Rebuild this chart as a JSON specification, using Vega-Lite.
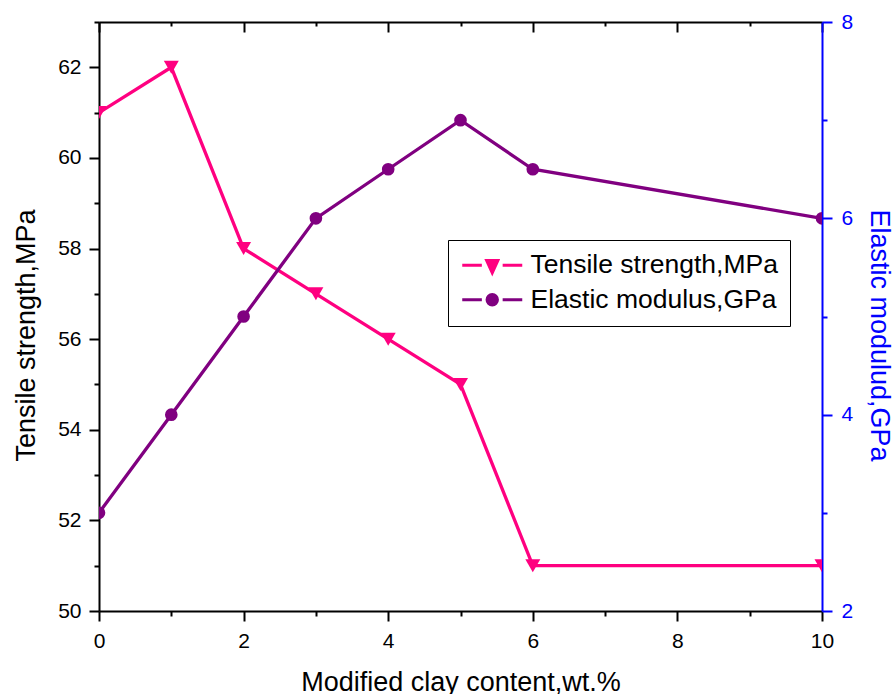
{
  "$schema": "https://vega.github.io/schema/vega-lite/v6.json",
  "width": 723,
  "height": 589,
  "autosize": {"type": "none"},
  "padding": {"left": 99, "top": 22, "right": 71, "bottom": 83},
  "background": "white",
  "config": {
    "view": {"stroke": null},
    "font": "Liberation Sans",
    "axis": {
      "grid": false,
      "labelFont": "Liberation Sans",
      "titleFont": "Liberation Sans",
      "labelFontSize": 21,
      "titleFontSize": 27,
      "titleFontWeight": "normal",
      "domainWidth": 2,
      "tickWidth": 2,
      "labelOverlap": false,
      "labelFlush": false,
      "labelBound": false,
      "domainColor": "black",
      "tickColor": "black",
      "labelColor": "black",
      "titleColor": "black"
    }
  },
  "data": {
    "values": [
      {"content": 0, "series": "Tensile strength,MPa", "value": 61},
      {"content": 1, "series": "Tensile strength,MPa", "value": 62},
      {"content": 2, "series": "Tensile strength,MPa", "value": 58},
      {"content": 3, "series": "Tensile strength,MPa", "value": 57},
      {"content": 4, "series": "Tensile strength,MPa", "value": 56},
      {"content": 5, "series": "Tensile strength,MPa", "value": 55},
      {"content": 6, "series": "Tensile strength,MPa", "value": 51},
      {"content": 10, "series": "Tensile strength,MPa", "value": 51},
      {"content": 0, "series": "Elastic modulus,GPa", "value": 3},
      {"content": 1, "series": "Elastic modulus,GPa", "value": 4},
      {"content": 2, "series": "Elastic modulus,GPa", "value": 5},
      {"content": 3, "series": "Elastic modulus,GPa", "value": 6},
      {"content": 4, "series": "Elastic modulus,GPa", "value": 6.5},
      {"content": 5, "series": "Elastic modulus,GPa", "value": 7},
      {"content": 6, "series": "Elastic modulus,GPa", "value": 6.5},
      {"content": 10, "series": "Elastic modulus,GPa", "value": 6}
    ]
  },
  "layer": [
    {
      "transform": [{"filter": "datum.series === 'Tensile strength,MPa'"}],
      "encoding": {
        "x": {
          "field": "content",
          "type": "quantitative",
          "scale": {"domain": [0, 10], "nice": false, "zero": false},
          "axis": {
            "orient": "bottom",
            "title": "Modified clay content,wt.%",
            "values": [0, 1, 2, 3, 4, 5, 6, 7, 8, 9, 10],
            "labelExpr": "datum.value % 2 === 0 ? datum.label : ''",
            "tickSize": {"condition": {"test": "datum.value % 2 === 0", "value": 10}, "value": 5},
            "labelFontSize": 21,
            "labelPadding": 9,
            "titleFontSize": 27,
            "titlePadding": 18
          }
        },
        "y": {
          "field": "value",
          "type": "quantitative",
          "scale": {"domain": [50, 63], "nice": false, "zero": false},
          "axis": {
            "orient": "left",
            "title": "Tensile strength,MPa",
            "values": [50, 51, 52, 53, 54, 55, 56, 57, 58, 59, 60, 61, 62, 63],
            "labelExpr": "datum.value % 2 === 0 && datum.value < 63 ? datum.label : ''",
            "tickSize": {"condition": {"test": "datum.value % 2 === 0", "value": 10}, "value": 5},
            "labelFontSize": 21,
            "labelPadding": 8,
            "titleFontSize": 27,
            "titlePadding": 17,
            "titleY": 313
          }
        },
        "color": {
          "field": "series",
          "type": "nominal",
          "scale": {
            "domain": ["Tensile strength,MPa", "Elastic modulus,GPa"],
            "range": ["#FF0080", "#800080"]
          },
          "legend": {
            "orient": "none",
            "legendX": 349,
            "legendY": 218,
            "title": null,
            "strokeColor": "black",
            "padding": 12,
            "labelFont": "Liberation Sans",
            "labelFontSize": 26.5,
            "labelColor": "black",
            "labelLimit": 0,
            "symbolSize": 256,
            "symbolStrokeWidth": 3,
            "symbolOffset": 19,
            "labelOffset": 25,
            "rowPadding": 7.5,
            "encode": {
              "symbols": {
                "update": {
                  "shape": {"signal": "datum.value === 'Tensile strength,MPa' ? 'M-3.75,0H-1.3M1.3,0H3.75M-0.7,-0.6H0.7L0,0.95Z' : 'M-3.75,0H-1.3M1.3,0H3.75M-0.65,0A0.65,0.65 0 1,0 0.65,0A0.65,0.65 0 1,0 -0.65,0Z'"},
                  "fill": {"signal": "scale('color', datum.value)"},
                  "stroke": {"signal": "scale('color', datum.value)"},
                  "strokeWidth": {"value": 3},
                  "opacity": {"value": 1},
                  "fillOpacity": {"value": 1},
                  "strokeOpacity": {"value": 1}
                }
              }
            }
          }
        }
      },
      "layer": [
        {"mark": {"type": "line", "strokeWidth": 3.3, "clip": true}},
        {"mark": {"type": "point", "shape": "triangle-down", "filled": true, "size": 225, "opacity": 1, "clip": true}}
      ]
    },
    {
      "transform": [{"filter": "datum.series === 'Elastic modulus,GPa'"}],
      "encoding": {
        "x": {
          "field": "content",
          "type": "quantitative",
          "scale": {"domain": [0, 10], "nice": false, "zero": false},
          "axis": {
            "orient": "top",
            "title": null,
            "labels": false,
            "values": [0, 1, 2, 3, 4, 5, 6, 7, 8, 9, 10],
            "tickSize": {"condition": {"test": "datum.value % 2 === 0", "value": -10}, "value": -4}
          }
        },
        "y": {
          "field": "value",
          "type": "quantitative",
          "scale": {"domain": [2, 8], "nice": false, "zero": false},
          "axis": {
            "orient": "right",
            "title": "Elastic modulud,GPa",
            "values": [2, 3, 4, 5, 6, 7, 8],
            "labelExpr": "datum.value % 2 === 0 ? datum.label : ''",
            "tickSize": {"condition": {"test": "datum.value % 2 === 0", "value": 10}, "value": 5},
            "labelFontSize": 21,
            "labelPadding": 9,
            "titleFontSize": 27,
            "titlePadding": 12,
            "titleY": 313,
            "domainColor": "#0000FF",
            "tickColor": "#0000FF",
            "labelColor": "#0000FF",
            "titleColor": "#0000FF"
          }
        },
        "color": {"field": "series", "type": "nominal"}
      },
      "layer": [
        {"mark": {"type": "line", "strokeWidth": 3.3, "clip": true}},
        {"mark": {"type": "point", "shape": "circle", "filled": true, "size": 160, "opacity": 1, "clip": true}}
      ]
    }
  ],
  "resolve": {"scale": {"y": "independent"}}
}
